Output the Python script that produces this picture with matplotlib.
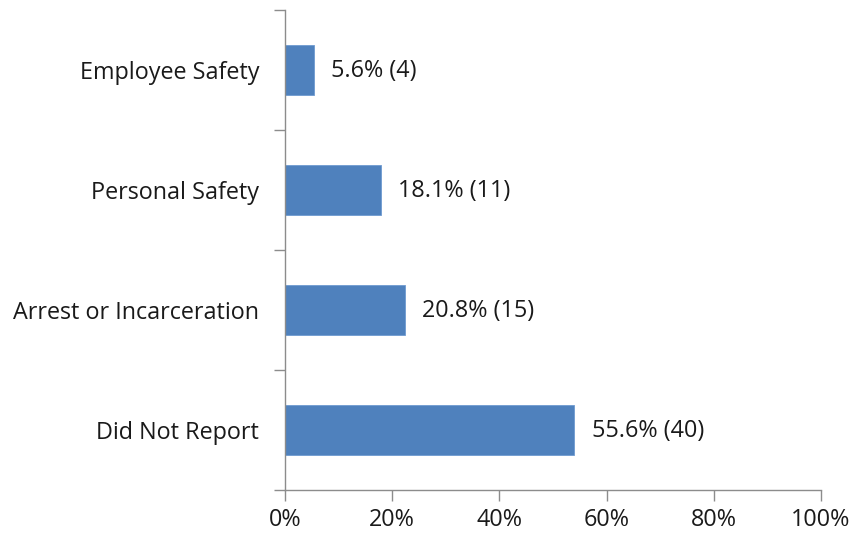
import matplotlib.pyplot as plt
from matplotlib.ticker import FixedLocator, PercentFormatter

# Data (top to bottom in the picture)
categories = ["Employee Safety", "Personal Safety", "Arrest or Incarceration", "Did Not Report"]
bar_values = [5.4, 17.9, 22.3, 54.0]
bar_labels = ["5.6% (4)", "18.1% (11)", "20.8% (15)", "55.6% (40)"]

plt.rcParams['font.family'] = ['Open Sans', 'DejaVu Sans']

fig = plt.figure(figsize=(8.52, 5.36), dpi=100)
ax = fig.add_axes([285 / 852, 1 - 490 / 536, 536 / 852, 480 / 536])

ypos = list(range(len(categories)))[::-1]
ax.barh(ypos, bar_values, height=0.41, color='#4F81BD', edgecolor='#6F9BD1', linewidth=0.6)

for y, v, lab in zip(ypos, bar_values, bar_labels):
    ax.annotate(lab, (v, y), xytext=(12.5, -1), textcoords='offset points',
                va='center', ha='left', fontsize=16.8, color='#1a1a1a')

ax.set_xlim(0, 100)
ax.set_ylim(-0.5, len(categories) - 0.5)
ax.set_yticks(ypos)
ax.set_yticklabels(categories, fontsize=16.8, color='#1a1a1a')
ax.yaxis.set_minor_locator(FixedLocator([-0.5, 0.5, 1.5, 2.5, 3.5]))
ax.tick_params(axis='y', which='major', length=0, pad=18.5)
ax.tick_params(axis='y', which='minor', length=8, color='#8c8c8c', width=1)

ax.set_xticks([0, 20, 40, 60, 80, 100])
ax.xaxis.set_major_formatter(PercentFormatter(decimals=0))
ax.tick_params(axis='x', length=8, color='#8c8c8c', width=1, labelsize=16.8,
               labelcolor='#1a1a1a', pad=5)

for side in ['top', 'right']:
    ax.spines[side].set_visible(False)
for side in ['left', 'bottom']:
    ax.spines[side].set_color('#8c8c8c')
    ax.spines[side].set_linewidth(1)

fig.savefig("out.png", dpi=100)
